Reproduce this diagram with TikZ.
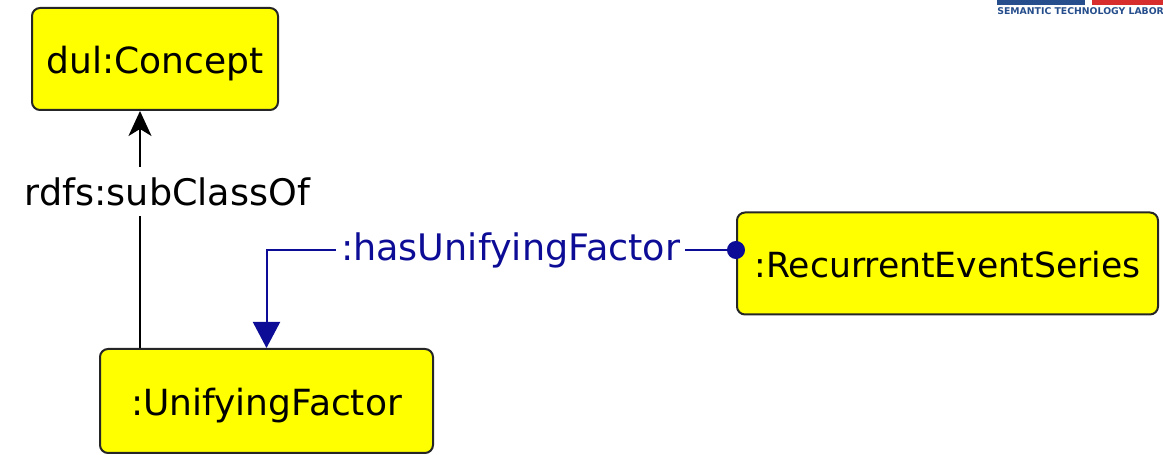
\documentclass[tikz,border=0pt]{standalone}
\usepackage{fontspec}
\setmainfont{DejaVu Sans}
\usepackage{xcolor}
\usepackage{tikz}
\usetikzlibrary{positioning,calc,arrows.meta}
\definecolor{classyellow}{RGB}{255,255,0}
\definecolor{propblue}{RGB}{12,12,150}
\definecolor{logoblue}{RGB}{38,78,140}
\definecolor{logored}{RGB}{215,45,45}

\begin{document}
\begin{tikzpicture}[class/.style={rectangle, rounded corners=0.16cm, draw=black!85, line width=0.04cm, fill=classyellow, minimum height=2.04cm, inner sep=0pt, text height=17pt, text depth=1pt, font=\fontsize{20.5}{24}\selectfont},
    subclass/.style={line width=0.04cm, -{Stealth[length=0.5cm, width=0.46cm, inset=0.14cm]}},
    objprop/.style={draw=propblue, line width=0.04cm, {Circle[length=0.36cm]}-{Triangle[length=0.52cm, width=0.54cm]}, shorten <=-0.18cm},
    edgelabel/.style={fill=white, inner xsep=0.1cm, inner ysep=0.2cm}]
    \useasboundingbox (0,0) rectangle (23.26,-9.10);
    % logo fragment in the corner
    \begin{scope}
        \clip (0,0) rectangle (23.26,-9.10);
        \fill[logoblue] (19.94,0) rectangle (21.70,-0.10);
        \fill[logored] (21.84,0) rectangle (23.40,-0.10);
        \node[anchor=west, inner sep=0pt, text=logoblue, font=\bfseries\fontsize{5.3}{6}\selectfont] (logo) at (19.94,-0.22) {SEMANTIC TECHNOLOGY LABORATORY};
    \end{scope}
    \node[class, minimum width=4.92cm] (concept) at (3.10,-1.18) {dul:Concept};
    \node[class, minimum width=6.66cm, minimum height=2.08cm] (factor) at (5.33,-8.02) {:UnifyingFactor};
    \node[class, minimum width=8.42cm] (series) at (18.95,-5.27) {\fontsize{19.7}{24}\selectfont:RecurrentEventSeries};
    \draw[subclass] ([xshift=-2.53cm]factor.north) -- ([xshift=-2.53cm]factor.north |- concept.south)
        node[pos=0.66, edgelabel, xshift=0.55cm, font=\fontsize{20.8}{24}\selectfont] (sublabel) {rdfs:subClassOf};
    \draw[objprop] ([yshift=0.27cm]series.west) -| (factor.north)
        node[pos=0.24, edgelabel, text=propblue, font=\fontsize{20.8}{24}\selectfont] (proplabel) {:hasUnifyingFactor};
\end{tikzpicture}
\end{document}
